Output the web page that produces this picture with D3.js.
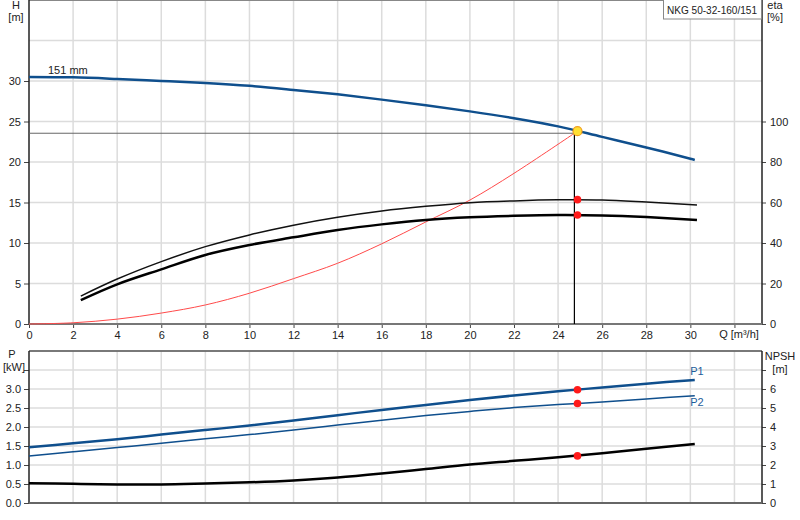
<!DOCTYPE html>
<html>
<head>
<meta charset="utf-8">
<script src="https://cdn.jsdelivr.net/npm/d3@7"></script>
<style>
  body { margin: 0; background: #fff; }
  svg { display: block; font-family: "Liberation Sans", Arial, sans-serif; }
  .tick text { font-size: 11px; fill: #222; }
</style>
</head>
<body>
<div id="chart"></div>
<script>
// head curve, 151 mm impeller
const qHead = [0, 2, 4, 6, 8, 10, 12, 14, 16, 18, 20, 22, 24, 26, 28, 30, 30.2];
const head = [30.5, 30.45, 30.25, 30.0, 29.75, 29.4, 28.9, 28.35, 27.7, 27.0, 26.25, 25.4, 24.4, 23.1, 21.8, 20.4, 20.25];

// efficiency curves (%)
const qEta = [2.35, 4, 6, 8, 10, 12, 14, 16, 18, 20, 22, 24, 26, 28, 30.3];
const etaPump = [13.8, 22.2, 30.8, 38.2, 44.0, 48.8, 52.7, 55.8, 58.1, 59.9, 60.8, 61.3, 61.2, 60.2, 58.8];
const etaTotal = [11.8, 19.6, 27.0, 34.1, 39.0, 42.8, 46.4, 49.2, 51.4, 52.7, 53.4, 53.8, 53.6, 52.8, 51.4];

// system curve
const qSys = [0, 2, 4, 6, 8, 10, 12, 14, 16, 18, 20, 22, 24.74];
const hSys = [0, 0.15, 0.6, 1.35, 2.35, 3.8, 5.6, 7.5, 9.9, 12.6, 15.3, 18.6, 23.55];

// power and NPSH
const qPow = [0, 2, 4, 6, 8, 10, 12, 14, 16, 18, 20, 22, 24, 26, 28, 30.2];
const p1 = [1.47, 1.57, 1.68, 1.80, 1.92, 2.04, 2.17, 2.31, 2.45, 2.58, 2.71, 2.83, 2.94, 3.04, 3.14, 3.24];
const p2 = [1.24, 1.35, 1.46, 1.57, 1.69, 1.80, 1.92, 2.05, 2.18, 2.30, 2.41, 2.51, 2.59, 2.66, 2.74, 2.82];
const npsh = [1.04, 1.01, 0.98, 0.98, 1.03, 1.09, 1.19, 1.34, 1.55, 1.79, 2.03, 2.22, 2.41, 2.62, 2.85, 3.11];

// duty point
const dutyLine = {q: 24.74, h: 23.55};
const duty = {q: 24.88, h: 23.8, etaPump: 61.4, etaTotal: 53.8, p1: 2.98, p2: 2.62, npsh: 2.48};

// ticks
const qTicks = d3.range(0, 31, 2);
const hTicks = [0, 5, 10, 15, 20, 25, 30];
const etaTicks = [0, 20, 40, 60, 80, 100];
const pTicks = [0, 0.5, 1, 1.5, 2, 2.5, 3];
const npshTicks = [0, 1, 2, 3, 4, 5, 6];

const title = "NKG 50-32-160/151";

const W = 800, H = 520;
const svg = d3.select('#chart').append('svg').attr('width', W).attr('height', H);

let x = d3.scaleLinear().domain([0, 33.25]).range([29, 762]);
let yH = d3.scaleLinear().domain([0, 40]).range([324, 0]);
let yEta = d3.scaleLinear().domain([0, 160]).range([324, 0]);
let yP = d3.scaleLinear().domain([0, 4]).range([503, 351]);
let yN = d3.scaleLinear().domain([0, 8]).range([503, 351]);

const grid = '#dcdcdc';
const blue = '#0f4f8d';

// grids
function vGrid(y0, y1) {
  svg.append('g').selectAll('line').data(d3.range(2, 33, 2)).join('line')
    .attr('x1', d => x(d)).attr('x2', d => x(d))
    .attr('y1', y0).attr('y2', y1)
    .attr('stroke', grid).attr('stroke-width', 1.5);
}
vGrid(0, 324);
vGrid(351, 503);

svg.append('g').selectAll('line').data(d3.range(5, 41, 5)).join('line')
  .attr('x1', 29).attr('x2', 762)
  .attr('y1', d => yH(d)).attr('y2', d => yH(d))
  .attr('stroke', grid).attr('stroke-width', 1.5);
svg.append('g').selectAll('line').data(d3.range(0.5, 4.01, 0.5)).join('line')
  .attr('x1', 29).attr('x2', 762)
  .attr('y1', d => yP(d)).attr('y2', d => yP(d))
  .attr('stroke', grid).attr('stroke-width', 1.5);

// frames
svg.append('line').attr('x1', 29).attr('x2', 762).attr('y1', 0.5).attr('y2', 0.5).attr('stroke', '#888');
svg.append('line').attr('x1', 29).attr('x2', 762).attr('y1', 351).attr('y2', 351).attr('stroke', '#555').attr('stroke-width', 1.5);

// axes
function styleAxis(g) {
  g.select('.domain').remove();
  g.selectAll('.tick line').attr('stroke', '#444');
}
svg.append('g').attr('transform', 'translate(29,0)')
  .call(d3.axisLeft(yH).tickValues(hTicks).tickSize(5).tickPadding(3)).call(styleAxis);
svg.append('g').attr('transform', 'translate(762,0)')
  .call(d3.axisRight(yEta).tickValues(etaTicks).tickSize(4).tickPadding(4)).call(styleAxis);
svg.append('g').attr('transform', 'translate(0,324)')
  .call(d3.axisBottom(x).tickValues(qTicks.concat([32])).tickSize(4).tickPadding(3)
    .tickFormat(d => d === 32 ? '' : d)).call(styleAxis);
svg.append('g').attr('transform', 'translate(29,0)')
  .call(d3.axisLeft(yP).tickValues(pTicks.concat([3.5])).tickSize(5).tickPadding(3)
    .tickFormat(d => d === 3.5 ? '' : d3.format('.1f')(d))).call(styleAxis);
svg.append('g').attr('transform', 'translate(762,0)')
  .call(d3.axisRight(yN).tickValues(npshTicks.concat([7])).tickSize(4).tickPadding(4)
    .tickFormat(d => d === 7 ? '' : d)).call(styleAxis);

// axis lines
svg.append('line').attr('x1', 29).attr('x2', 29).attr('y1', 0).attr('y2', 324).attr('stroke', '#222').attr('stroke-width', 1.5);
svg.append('line').attr('x1', 762).attr('x2', 762).attr('y1', 0).attr('y2', 324).attr('stroke', '#222').attr('stroke-width', 1.5);
svg.append('line').attr('x1', 29).attr('x2', 762).attr('y1', 324).attr('y2', 324).attr('stroke', '#777').attr('stroke-width', 2);
svg.append('line').attr('x1', 29).attr('x2', 29).attr('y1', 351).attr('y2', 503).attr('stroke', '#222').attr('stroke-width', 1.5);
svg.append('line').attr('x1', 762).attr('x2', 762).attr('y1', 351).attr('y2', 503).attr('stroke', '#222').attr('stroke-width', 1.5);
svg.append('line').attr('x1', 29).attr('x2', 762).attr('y1', 503).attr('y2', 503).attr('stroke', '#666').attr('stroke-width', 2);

// unit labels
function label(tx, ty, t, anchor, color) {
  return svg.append('text').attr('x', tx).attr('y', ty).attr('text-anchor', anchor || 'middle')
    .attr('font-size', 11).attr('fill', color || '#222').text(t);
}
label(16, 9, 'H');
label(16, 21, '[m]');
label(775, 9, 'eta');
label(775, 21, '[%]');
label(739, 338, 'Q [m³/h]');
label(12, 358, 'P');
label(14, 371, '[kW]');
label(780, 360, 'NPSH');
label(780, 373, '[m]');
label(48, 74, '151 mm', 'start');

// title box
svg.append('rect').attr('x', 663.5).attr('y', -1).attr('width', 98).attr('height', 20)
  .attr('fill', '#fff').attr('stroke', '#888');
label(667, 14, title, 'start').attr('textLength', 90).attr('lengthAdjust', 'spacingAndGlyphs');

const line = (xs, ys, sy) => d3.line().curve(d3.curveCatmullRom.alpha(0.5))
  .x((d, i) => x(xs[i])).y(d => sy(d))(ys);

// system curve
svg.append('path').attr('d', line(qSys, hSys, yH)).attr('fill', 'none')
  .attr('stroke', '#ff4a4a').attr('stroke-width', 1);

// efficiency curves
svg.append('path').attr('d', line(qEta, etaPump, yEta)).attr('fill', 'none')
  .attr('stroke', '#111').attr('stroke-width', 1.5);
svg.append('path').attr('d', line(qEta, etaTotal, yEta)).attr('fill', 'none')
  .attr('stroke', '#000').attr('stroke-width', 2.5);

// duty lines
svg.append('line').attr('x1', 29).attr('x2', x(dutyLine.q))
  .attr('y1', yH(dutyLine.h)).attr('y2', yH(dutyLine.h)).attr('stroke', '#666').attr('stroke-width', 1);
svg.append('line').attr('x1', x(dutyLine.q)).attr('x2', x(dutyLine.q))
  .attr('y1', yH(dutyLine.h)).attr('y2', 324).attr('stroke', '#000').attr('stroke-width', 1.2);

// head curve
svg.append('path').attr('d', line(qHead, head, yH)).attr('fill', 'none')
  .attr('stroke', blue).attr('stroke-width', 2.5);

// power curves
svg.append('path').attr('d', line(qPow, p1, yP)).attr('fill', 'none')
  .attr('stroke', blue).attr('stroke-width', 2.5);
svg.append('path').attr('d', line(qPow, p2, yP)).attr('fill', 'none')
  .attr('stroke', blue).attr('stroke-width', 1.5);
svg.append('path').attr('d', line(qPow, npsh, yN)).attr('fill', 'none')
  .attr('stroke', '#000').attr('stroke-width', 2.5);
label(697, 375, 'P1', 'middle', '#1d5d9b');
label(697, 406, 'P2', 'middle', '#1d5d9b');

// duty point markers
const dots = [
  {y: yEta(duty.etaPump)}, {y: yEta(duty.etaTotal)},
  {y: yP(duty.p1)}, {y: yP(duty.p2)}, {y: yN(duty.npsh)}
];
svg.append('g').selectAll('circle').data(dots).join('circle')
  .attr('cx', x(duty.q)).attr('cy', d => d.y).attr('r', 3.8).attr('fill', '#ff1a1a');
svg.append('circle').attr('cx', x(duty.q)).attr('cy', yH(duty.h)).attr('r', 4.5)
  .attr('fill', '#ffe033').attr('stroke', '#f0a020').attr('stroke-width', 1.2);
</script>
</body>
</html>
